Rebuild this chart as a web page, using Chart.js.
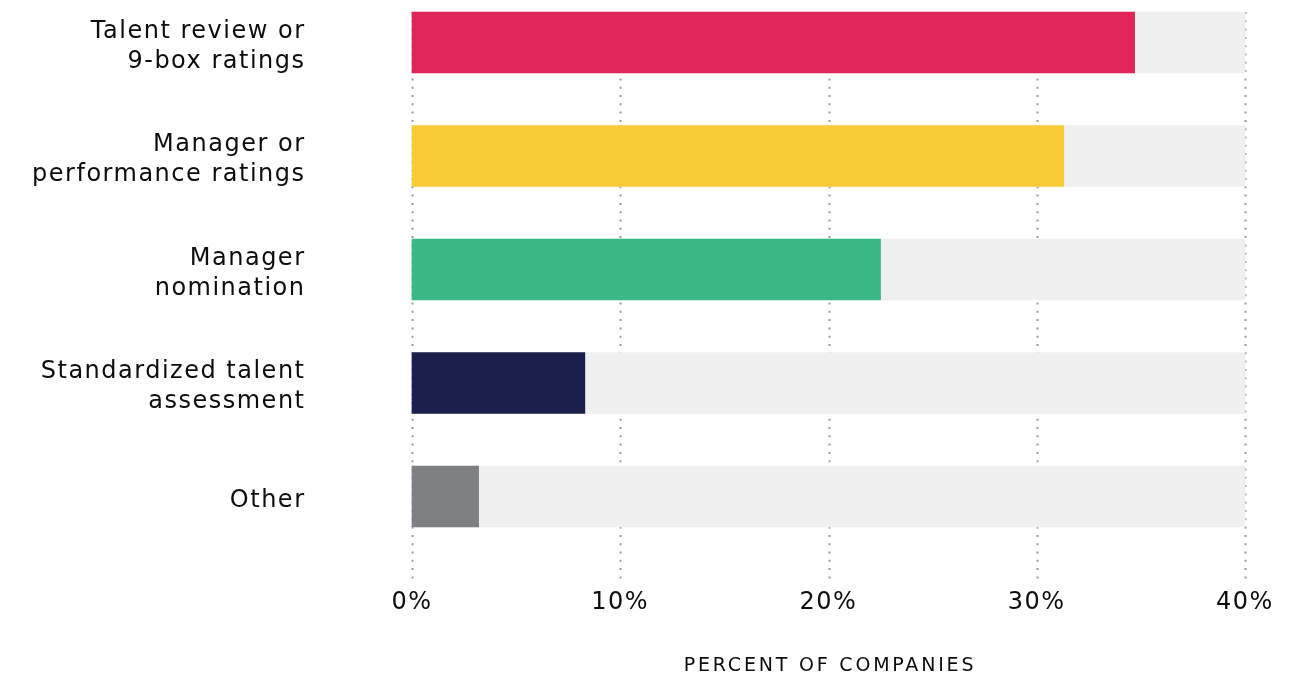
<!DOCTYPE html>
<html>
<head>
<meta charset="utf-8">
<script src="https://cdn.jsdelivr.net/npm/chart.js@4.4.0/dist/chart.umd.min.js"></script>
<style>
  html, body { margin: 0; padding: 0; background: #fff; }
  #wrap { position: relative; width: 1304px; height: 675px; }
</style>
</head>
<body>
<div id="wrap"><canvas id="selection-chart"></canvas></div>
<script>
// How companies pick people for programs
const categories = [
    ['Talent review or', '9-box ratings'],
    ['Manager or', 'performance ratings'],
    ['Manager', 'nomination'],
    ['Standardized talent', 'assessment'],
    'Other'
];
const percentValues = [34.7, 31.3, 22.5, 8.3, 3.2];
const barColors = ['#E02558', '#F9CB35', '#3AB986', '#1A1F4D', '#7F8084'];
const xTicks = [0, 10, 20, 30, 40];
const axisMax = 40;
const trackValues = categories.map(() => axisMax);
const axisTitle = 'PERCENT OF COMPANIES';

const FONT = "'DejaVu Sans', sans-serif";
const TEXT = '#0d0d0d';

// dotted verticals behind the bars, plus the spaced-out axis title
const dottedGrid = {
    id: 'dottedGrid',
    beforeDraw(chart) {
        chart.ctx.letterSpacing = '1.5px';
        // category labels sit a little below the bar centre
        const items = chart.scales.y.getLabelItems();
        if (!items._nudged) {
            items.forEach(it => { it.options.translation[1] += 4; });
            items._nudged = true;
        }
    },
    beforeDatasetsDraw(chart) {
        const { ctx, chartArea, scales: { x } } = chart;
        ctx.save();
        ctx.strokeStyle = '#9b9b9b';
        ctx.lineWidth = 2;
        ctx.setLineDash([2, 6.3]);
        x.ticks.forEach(t => {
            const px = Math.round(x.getPixelForValue(t.value)) + 0.5;
            ctx.beginPath();
            ctx.moveTo(px, chartArea.top - 30.5);
            ctx.lineTo(px, chartArea.bottom + 82);
            ctx.stroke();
        });
        ctx.restore();
    },
    afterDraw(chart) {
        const { ctx, chartArea } = chart;
        ctx.save();
        ctx.letterSpacing = '2.8px';
        ctx.font = '19px ' + FONT;
        ctx.fillStyle = TEXT;
        ctx.textAlign = 'center';
        ctx.textBaseline = 'middle';
        ctx.fillText(axisTitle, (chartArea.left + chartArea.right) / 2 + 1.5, 666);
        ctx.restore();
    }
};

const ctx = document.getElementById('selection-chart');

new Chart(ctx, {
    type: 'bar',
    data: {
        labels: categories,
        datasets: [{
            label: 'Percent of companies',
            data: percentValues,
            backgroundColor: barColors,
            barThickness: 61,
            grouped: false,
            clip: false
        }, {
            label: 'Scale',
            data: trackValues,
            backgroundColor: '#F0F0F0',
            barThickness: 61,
            grouped: false,
            clip: false
        }]
    },
    options: {
        indexAxis: 'y',
        responsive: true,
        maintainAspectRatio: false,
        animation: false,
        layout: {
            padding: { top: 42.5, right: 59, bottom: 0, left: 0 }
        },
        scales: {
            x: {
                type: 'linear',
                min: 0,
                max: axisMax,
                grid: { display: false, drawTicks: false },
                border: { display: false },
                afterBuildTicks: scale => {
                    scale.ticks = xTicks.map(v => ({ value: v }));
                },
                afterFit: scale => {
                    scale.height = 178.5;
                    scale.paddingLeft = 0;
                    scale.paddingRight = 0;
                },
                ticks: {
                    padding: 92,
                    color: TEXT,
                    font: { family: FONT, size: 24, lineHeight: 1.2 },
                    callback: v => v + '%'
                }
            },
            y: {
                offset: false,
                grid: { display: false, drawTicks: false },
                border: { display: false },
                afterFit: scale => {
                    scale.width = 412;
                    scale.paddingTop = 0;
                    scale.paddingBottom = 0;
                },
                ticks: {
                    padding: 106.5,
                    color: TEXT,
                    font: { family: FONT, size: 24, lineHeight: 1.25 }
                }
            }
        },
        plugins: {
            legend: { display: false },
            tooltip: { enabled: false }
        }
    },
    plugins: [dottedGrid]
});
</script>
</body>
</html>
